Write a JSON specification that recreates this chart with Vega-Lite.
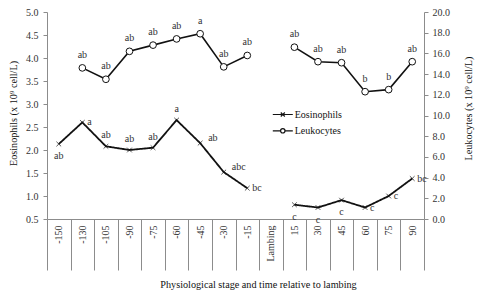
{
  "$schema": "https://vega.github.io/schema/vega-lite/v6.json",
  "width": 377,
  "height": 207,
  "autosize": {"type": "none"},
  "padding": {"left": 47, "top": 12, "right": 54, "bottom": 76},
  "background": "white",
  "config": {
    "view": {"stroke": null},
    "font": "Liberation Serif",
    "axis": {"labelFont": "Liberation Serif", "titleFont": "Liberation Serif", "labelFontSize": 10, "titleFontSize": 10.2, "titleFontWeight": "normal", "labelColor": "#333333", "titleColor": "#111111", "domainColor": "#8c8c8c", "tickColor": "#8c8c8c", "grid": false},
    "legend": {"labelFont": "Liberation Serif", "labelFontSize": 10, "labelColor": "#111111", "padding": 0}
  },
  "data": {
    "values": [
      {"t": "-150", "series": "Eosinophils", "v": 2.13, "sig": "ab"},
      {"t": "-130", "series": "Eosinophils", "v": 2.6, "sig": "a"},
      {"t": "-105", "series": "Eosinophils", "v": 2.08, "sig": "ab"},
      {"t": "-90", "series": "Eosinophils", "v": 2.0, "sig": "ab"},
      {"t": "-75", "series": "Eosinophils", "v": 2.05, "sig": "ab"},
      {"t": "-60", "series": "Eosinophils", "v": 2.65, "sig": "a"},
      {"t": "-45", "series": "Eosinophils", "v": 2.15, "sig": "ab"},
      {"t": "-30", "series": "Eosinophils", "v": 1.52, "sig": "abc"},
      {"t": "-15", "series": "Eosinophils", "v": 1.17, "sig": "bc"},
      {"t": "Lambing", "series": "Eosinophils", "v": null, "sig": null},
      {"t": "15", "series": "Eosinophils", "v": 0.81, "sig": "c"},
      {"t": "30", "series": "Eosinophils", "v": 0.75, "sig": "c"},
      {"t": "45", "series": "Eosinophils", "v": 0.91, "sig": "c"},
      {"t": "60", "series": "Eosinophils", "v": 0.75, "sig": "c"},
      {"t": "75", "series": "Eosinophils", "v": 1.0, "sig": "c"},
      {"t": "90", "series": "Eosinophils", "v": 1.38, "sig": "bc"},
      {"t": "-150", "series": "Leukocytes", "v": null, "sig": null},
      {"t": "-130", "series": "Leukocytes", "v": 14.6, "sig": "ab"},
      {"t": "-105", "series": "Leukocytes", "v": 13.5, "sig": "ab"},
      {"t": "-90", "series": "Leukocytes", "v": 16.2, "sig": "ab"},
      {"t": "-75", "series": "Leukocytes", "v": 16.8, "sig": "ab"},
      {"t": "-60", "series": "Leukocytes", "v": 17.4, "sig": "ab"},
      {"t": "-45", "series": "Leukocytes", "v": 17.9, "sig": "a"},
      {"t": "-30", "series": "Leukocytes", "v": 14.7, "sig": "ab"},
      {"t": "-15", "series": "Leukocytes", "v": 15.8, "sig": "ab"},
      {"t": "Lambing", "series": "Leukocytes", "v": null, "sig": null},
      {"t": "15", "series": "Leukocytes", "v": 16.6, "sig": "ab"},
      {"t": "30", "series": "Leukocytes", "v": 15.2, "sig": "ab"},
      {"t": "45", "series": "Leukocytes", "v": 15.1, "sig": "ab"},
      {"t": "60", "series": "Leukocytes", "v": 12.3, "sig": "b"},
      {"t": "75", "series": "Leukocytes", "v": 12.5, "sig": "b"},
      {"t": "90", "series": "Leukocytes", "v": 15.2, "sig": "ab"}
    ]
  },
  "encoding": {
    "x": {
      "field": "t", "type": "nominal", "sort": null,
      "scale": {"domain": ["-150", "-130", "-105", "-90", "-75", "-60", "-45", "-30", "-15", "Lambing", "15", "30", "45", "60", "75", "90"], "paddingInner": 0, "paddingOuter": 0},
      "axis": {
        "title": "Physiological stage and time relative to lambing",
        "labelFont": "Liberation Serif", "titleFont": "Liberation Serif",
        "tickBand": "extent", "tickSize": 51, "labelAngle": -90, "labelAlign": "right", "labelBaseline": "middle",
        "labelPadding": -45, "titleX": 211, "titleY": 60, "titleAnchor": "start", "titleAlign": "center", "titleBaseline": "top"
      }
    }
  },
  "layer": [
    {
      "transform": [{"filter": "datum.series === 'Eosinophils'"}],
      "encoding": {
        "y": {"field": "v", "type": "quantitative", "scale": {"domain": [0.5, 5], "nice": false, "zero": false},
          "axis": {"orient": "left", "title": "Eosinophils (x 10⁹ cell/L)", "labelFont": "Liberation Serif", "titleFont": "Liberation Serif", "values": [0.5, 1, 1.5, 2, 2.5, 3, 3.5, 4, 4.5, 5], "format": ".1f", "tickSize": 4, "labelPadding": 5, "titleX": -34, "titleY": 101, "titleAnchor": "start", "titleAlign": "center", "titleBaseline": "middle"}}
      },
      "layer": [
        {"mark": {"type": "line", "color": "#111111", "strokeWidth": 1.8, "invalid": "break-paths-show-domains"},
          "encoding": {"strokeDash": {"field": "series", "type": "nominal",
            "scale": {"domain": ["Eosinophils"], "range": [[1, 0]]},
            "legend": {"orient": "none", "legendX": 228.3, "legendY": 95, "title": null, "symbolSize": 178, "labelOffset": 4.4, "padding": 0,
              "symbolType": "M-1.5,0H1.5M-0.3,-0.3L0.3,0.3M-0.3,0.3L0.3,-0.3", "symbolStrokeWidth": 1.2, "symbolStrokeColor": "#111111", "symbolFillColor": "transparent", "symbolDash": [1, 0]}}}},
        {"mark": {"type": "point", "shape": "M-1,-1L1,1M-1,1L1,-1", "filled": false, "stroke": "#111111", "strokeWidth": 1, "size": 22}},
        {"transform": [{"filter": {"field": "t", "oneOf": ["-105", "-90", "-75", "-60"]}}],
          "mark": {"type": "text", "dy": -11, "fontSize": 10, "font": "Liberation Serif", "color": "#333333"}, "encoding": {"text": {"field": "sig"}}},
        {"transform": [{"filter": {"field": "t", "oneOf": ["-150", "15", "30", "45"]}}],
          "mark": {"type": "text", "dy": 12, "fontSize": 10, "font": "Liberation Serif", "color": "#333333"}, "encoding": {"text": {"field": "sig"}}},
        {"transform": [{"filter": {"field": "t", "oneOf": ["-130", "-15", "60", "75", "90"]}}],
          "mark": {"type": "text", "dx": 5, "align": "left", "fontSize": 10, "font": "Liberation Serif", "color": "#333333"}, "encoding": {"text": {"field": "sig"}}},
        {"transform": [{"filter": {"field": "t", "oneOf": ["-45", "-30"]}}],
          "mark": {"type": "text", "dx": 8, "dy": -5, "align": "left", "fontSize": 10, "font": "Liberation Serif", "color": "#333333"}, "encoding": {"text": {"field": "sig"}}}
      ]
    },
    {
      "transform": [{"filter": "datum.series === 'Leukocytes'"}],
      "encoding": {
        "y": {"field": "v", "type": "quantitative", "scale": {"domain": [0, 20], "nice": false, "zero": false},
          "axis": {"orient": "right", "title": "Leukocytes (x 10⁹ cell/L)", "labelFont": "Liberation Serif", "titleFont": "Liberation Serif", "values": [0, 2, 4, 6, 8, 10, 12, 14, 16, 18, 20], "format": ".1f", "tickSize": 4, "labelPadding": 4, "titleAngle": -90, "titleX": 44, "titleY": 96, "titleAnchor": "start", "titleAlign": "center", "titleBaseline": "middle"}}
      },
      "layer": [
        {"mark": {"type": "line", "strokeWidth": 1.6, "invalid": "break-paths-show-domains"},
          "encoding": {"color": {"field": "series", "type": "nominal",
            "scale": {"domain": ["Leukocytes"], "range": ["#111111"]},
            "legend": {"orient": "none", "legendX": 228.3, "legendY": 111.3, "title": null, "symbolSize": 178, "labelOffset": 4.4, "padding": 0,
              "symbolType": "M-1.5,0H-0.33M0.33,0H1.5M0.33,0A0.33,0.33 0 1 1 -0.33,0A0.33,0.33 0 1 1 0.33,0", "symbolStrokeWidth": 1.2, "symbolFillColor": "transparent"}}}},
        {"mark": {"type": "point", "shape": "circle", "filled": true, "fill": "white", "stroke": "#111111", "strokeWidth": 1, "size": 45, "opacity": 1}},
        {"mark": {"type": "text", "dy": -13, "fontSize": 10, "font": "Liberation Serif", "color": "#333333"}, "encoding": {"text": {"field": "sig"}}}
      ]
    }
  ],
  "resolve": {"scale": {"y": "independent"}}
}
